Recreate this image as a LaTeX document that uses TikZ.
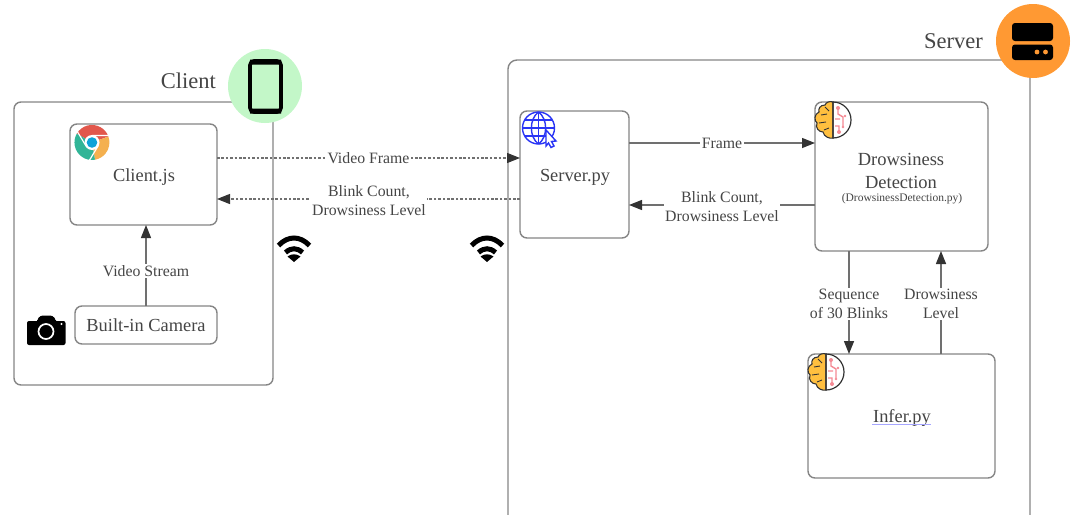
\documentclass[tikz,border=0pt]{standalone}
\usepackage{fontspec}
\setmainfont{Liberation Serif}
\usetikzlibrary{arrows.meta,calc}
\definecolor{edgec}{HTML}{858585}
\definecolor{linec}{HTML}{707070}
\definecolor{tipc}{HTML}{333333}
\definecolor{txtc}{HTML}{454545}
\definecolor{greenc}{HTML}{C3F7C8}
\definecolor{orangec}{HTML}{FF9933}
\definecolor{brainy}{HTML}{FFBF3F}
\definecolor{brainp}{HTML}{F58A94}
\definecolor{webb}{HTML}{2A35F5}
\definecolor{chred}{HTML}{E2574C}
\definecolor{chorange}{HTML}{F4B04F}
\definecolor{chgreen}{HTML}{31B597}
\definecolor{chblue}{HTML}{0FA3D8}
\newcommand{\fs}[2]{\fontsize{#1}{#2}\selectfont}
\tikzset{
  x=1pt,y=-1pt,
  box/.style={draw=edgec,line width=1.4pt,rounded corners=7pt,fill=white,inner sep=0pt,outer sep=0pt,text=txtc,font=\fs{18.4}{22}},
  heading/.style={text=txtc,font=\fs{22.5}{27},inner sep=0pt},
  lbl/.style={fill=white,text=txtc,font=\fs{15.8}{19},align=center,inner sep=1.5pt},
  flow/.style={draw=linec,line width=1.4pt,-{Triangle[length=13pt,width=10pt,color=tipc]}},
  dflow/.style={flow,line width=1.1pt,dash pattern=on 2.6pt off 1.8pt},
  wifi/.pic={
    \draw[line width=5pt] (-15.5,-3.5) .. controls (-6,-13.5) and (6,-13.5) .. (15.5,-3.5);
    \draw[line width=5pt] (-8.5,3.5) .. controls (-3,-1.5) and (3,-1.5) .. (8.5,3.5);
    \fill (0,13) -- (-6.5,7.5) .. controls (-2,4.5) and (2,4.5) .. (6.5,7.5) -- cycle;
  },
  brain/.pic={
    \fill[white] (0,0) circle[radius=18];
    \fill[brainy,draw=tipc,line width=1.1pt] (0,-18)
      .. controls (-3,-19) and (-7,-18) .. (-8,-15)
      .. controls (-13,-15) and (-15,-11) .. (-14,-8)
      .. controls (-19,-6) and (-19,1) .. (-16,3)
      .. controls (-18,8) and (-14,12) .. (-10,12)
      .. controls (-9,17) and (-3,19) .. (0,18) -- cycle;
    \draw[tipc,line width=.9pt] (-12,-5) -- (-6,-6) (-14,3) -- (-7,2) (-9,10) -- (-4,8) (-8,-13) -- (-4,-9);
    \draw[tipc,line width=1.2pt] (0,-18) arc[start angle=270,end angle=450,radius=18] -- cycle;
    \draw[brainp,line width=1.4pt] (5,-12) -- (5,-6) -- (10,-3) -- (10,6) (2,-1) -- (7,-1) (2,6) -- (6,6) -- (6,12);
    \fill[brainp] (5,-12) circle[radius=2] (6,12) circle[radius=2] (12,-4) circle[radius=1.4] (10,7) circle[radius=1.4];
  },
}
\begin{document}
\begin{tikzpicture}
\useasboundingbox (0,0) rectangle (1081,514);
% outer containers
\node[box,anchor=north west,minimum width=259pt,minimum height=283pt] (client) at (14,102) {};
\draw[edgec,line width=1.4pt,rounded corners=9pt] (508,516) -- (508,60) -- (1030,60) -- (1030,516);
% header badges
\fill[greenc] (265,86) circle[radius=37];
\node[heading,anchor=east] (clientlbl) at (216,81) {Client};
\fill[orangec] (1033,41) circle[radius=37];
\node[heading,anchor=east] (serverlbl) at (983,41) {Server};
% phone
\draw[line width=3.6pt,rounded corners=4pt] (250,61) rectangle (281,112);
\fill (250,59.5) rectangle (281,64.5) (250,108.5) rectangle (281,113.5);
% server icon
\fill[rounded corners=3pt] (1012,23) rectangle (1053,41);
\fill[rounded corners=3pt] (1012,44.5) rectangle (1053,60);
\fill[orangec] (1037,52) circle[radius=2.4] (1045.5,52) circle[radius=2.4];
% inner boxes
\node[box,anchor=north west,minimum width=147pt,minimum height=101pt] (cjs) at (70,124) {};
\node at (144,177) [text=txtc,font=\fs{18.4}{22},inner sep=0pt] (cjstxt) {Client.js};
\node[box,anchor=north west,minimum width=142pt,minimum height=38pt] (cam) at (75,306) {Built-in Camera};
\node[box,anchor=north west,minimum width=109pt,minimum height=127pt] (spy) at (520,111) {};
\node[text=txtc,font=\fs{18.4}{22},inner sep=0pt] (spytxt) at (575,177) {Server.py};
\node[box,anchor=north west,minimum width=173pt,minimum height=149pt] (dd) at (815,102) {};
\node[text=txtc,font=\fs{18.5}{23},align=center,inner sep=0pt] (ddtxt) at (901,171) {Drowsiness\\Detection};
\node[text=txtc,font=\fs{11.5}{14},inner sep=0pt] (ddsub) at (902,199) {(DrowsinessDetection.py)};
\node[box,anchor=north west,minimum width=187pt,minimum height=124pt] (inf) at (808,354) {};
\node[text=txtc,font=\fs{18.4}{22},inner sep=0pt] (inftxt) at (902,418) {Infer.py};
\draw[blue!35,line width=1.2pt] (872,424.5) -- (931,424.5);
% connectors
\draw[dflow] (cjs.east |- 0,158) -- node[lbl,pos=.5,inner ysep=0pt] (l1) {Video Frame} (spy.west |- 0,158);
\draw[dflow] (spy.west |- 0,199) -- (cjs.east |- 0,199);
\node[lbl] (l2) at (369,201) {Blink Count,\\Drowsiness Level};
\draw[flow] (spy.east |- 0,143) -- node[lbl,inner ysep=0pt] (l3) {Frame} (dd.west |- 0,143);
\draw[flow] (dd.west |- 0,205) -- (spy.east |- 0,205);
\node[lbl] (l4) at (722,207) {Blink Count,\\Drowsiness Level};
\draw[flow] (849,251) coordinate (s1) -- (849,354) coordinate (s2);
\node[lbl] (l5) at (849,304) {Sequence\\of 30 Blinks};
\draw[flow] (941,354) coordinate (d1) -- (941,251) coordinate (d2);
\node[lbl] (l6) at (941,304) {Drowsiness\\Level};
\draw[flow] (cam.north) -- node[lbl,pos=.43] (l7) {Video Stream} (cam.north |- cjs.south);
% camera icon
\fill[rounded corners=2pt] (27,321) rectangle (65.5,345);
\fill[rounded corners=3pt] (37,320) -- (40,315.5) -- (53,315.5) -- (56,320) -- (56,323) -- (37,323) -- cycle;
\draw[white,line width=1.7pt] (46,331.5) circle[radius=7.5];
\fill[white] (61.5,324) circle[radius=1.2];
% chrome icon
\fill[chred] (92,142.5) -- (76.8,133.7) arc[start angle=210,end angle=340,radius=17.5] -- cycle;
\fill[chorange] (92,142.5) -- (108.4,136.5) arc[start angle=-20,end angle=80,radius=17.5] -- cycle;
\fill[chgreen] (92,142.5) -- (95,159.7) arc[start angle=80,end angle=210,radius=17.5] -- cycle;
\draw[white,line width=1.2pt] (92,135.5) -- (110,135.5) (98,146) -- (89,161) (86,146) -- (77,131);
\fill[white] (92,142.5) circle[radius=7.5];
\fill[chblue] (92,142.5) circle[radius=5.3];
% globe icon
\begin{scope}[webb,line width=1.4pt]
\draw (538.5,128) circle[radius=16];
\draw (538.5,112) .. controls (529,119) and (529,137) .. (538.5,144);
\draw (538.5,112) .. controls (548,119) and (548,137) .. (538.5,144);
\draw (538.5,112) -- (538.5,144) (522.5,128) -- (554.5,128) (525,120) -- (552,120) (525,136) -- (552,136);
\draw[fill=white] (546,130) -- (556,141) -- (551.5,141.5) -- (554,146) -- (551,147.5) -- (548.5,143) -- (546,146) -- cycle;
\end{scope}
% brains
\pic at (833,120) {brain};
\pic at (826,372) {brain};
% wifi
\pic at (294,249) {wifi};
\pic at (487,249) {wifi};
\end{tikzpicture}
\end{document}
